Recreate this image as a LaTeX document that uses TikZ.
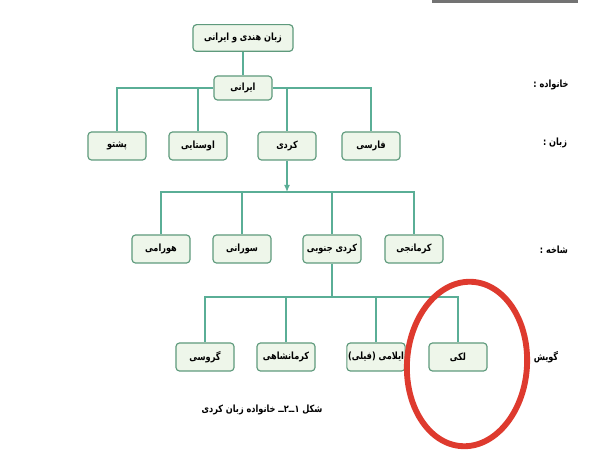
\documentclass[tikz,border=0pt]{standalone}
\usepackage{fontspec}
\usepackage{tikz}
\usetikzlibrary{arrows.meta,backgrounds}
\TeXXeTstate=1
\newfontfamily\persianfont[Script=Arabic,FakeStretch=0.82]{DejaVu Sans}
\newcommand{\fa}[1]{{\persianfont\bfseries\beginR #1\endR}}
\definecolor{boxline}{HTML}{5E9A7C}
\definecolor{boxfill}{HTML}{EEF6EA}
\definecolor{treeline}{HTML}{5AAE96}
\definecolor{markred}{HTML}{DE3A2E}

\begin{document}
\begin{tikzpicture}[x=0.03cm,y=-0.03cm]
\tikzstyle{every node}+=[font=\fontsize{8.5}{10}\selectfont]
\tikzstyle{box}=[draw=boxline,fill=boxfill,line width=1pt,rounded corners=3pt,minimum width=1.74cm,minimum height=0.84cm,inner sep=1pt]
\tikzstyle{conn}=[draw=treeline,line width=0.9pt]
\useasboundingbox (0,0) rectangle (608,458);
\fill [black!55] (432,0) rectangle (578,3);
% family
\node [box,minimum width=3cm,minimum height=0.8cm] (indoiran) at (243,38) {\fa{زبان هندی و ایرانی}};
\node [box,minimum height=0.72cm] (iran) at (243,88) {\fa{ایرانی}};
% languages
\node [box] (pashto) at (117,146) {\fa{پشتو}};
\node [box] (avesta) at (198,146) {\fa{اوستایی}};
\node [box] (kurdi) at (287,146) {\fa{کردی}};
\node [box] (farsi) at (371,146) {\fa{فارسی}};
% branches
\node [box] (hawrami) at (161,249) {\fa{هورامی}};
\node [box] (sorani) at (242,249) {\fa{سورانی}};
\node [box] (southk) at (332,249) {\fa{کردی جنوبی}};
\node [box] (kurmanji) at (414,249) {\fa{کرمانجی}};
% dialects
\node [box] (garrusi) at (205,357) {\fa{گروسی}};
\node [box] (kermanshahi) at (286,357) {\fa{کرمانشاهی}};
\node [box] (ilami) at (376,357) {\fa{ایلامی (فیلی)}};
\node [box] (laki) at (458,357) {\fa{لکی}};
% row labels
\node (lfamily) at (551,85) {\fa{خانواده :}};
\node (llang) at (555,143) {\fa{زبان :}};
\node (lbranch) at (554,250) {\fa{شاخه :}};
\node (ldialect) at (546,357) {\fa{گویش}};
\node (caption) at (262,410) {\fa{شکل ۱ــ۲ــ خانواده زبان کردی}};
% tree lines
\coordinate (split2) at (287,192);
\coordinate (split3) at (332,297);
\begin{scope}[on background layer]
\draw [conn] (indoiran) -- (iran);
\draw [conn] (iran.west) -| (pashto.north);
\draw [conn] (iran.east) -| (farsi.north);
\draw [conn] (avesta.north |- iran.west) -- (avesta.north);
\draw [conn] (kurdi.north |- iran.east) -- (kurdi.north);
\draw [conn,-{Latex[length=6pt,width=5pt]}] (kurdi.south) -- (split2);
\draw [conn] (split2) -| (hawrami.north);
\draw [conn] (split2) -| (kurmanji.north);
\draw [conn] (sorani.north |- split2) -- (sorani.north);
\draw [conn] (southk.north |- split2) -- (southk.north);
\draw [conn] (southk.south) -- (split3);
\draw [conn] (split3) -| (garrusi.north);
\draw [conn] (split3) -| (laki.north);
\draw [conn] (kermanshahi.north |- split3) -- (kermanshahi.north);
\draw [conn] (ilami.north |- split3) -- (ilami.north);
\end{scope}
% red mark
\draw [markred,line width=5pt] (467,364) ellipse [x radius=1.8cm,y radius=2.47cm,rotate=-4];
\end{tikzpicture}
\end{document}
